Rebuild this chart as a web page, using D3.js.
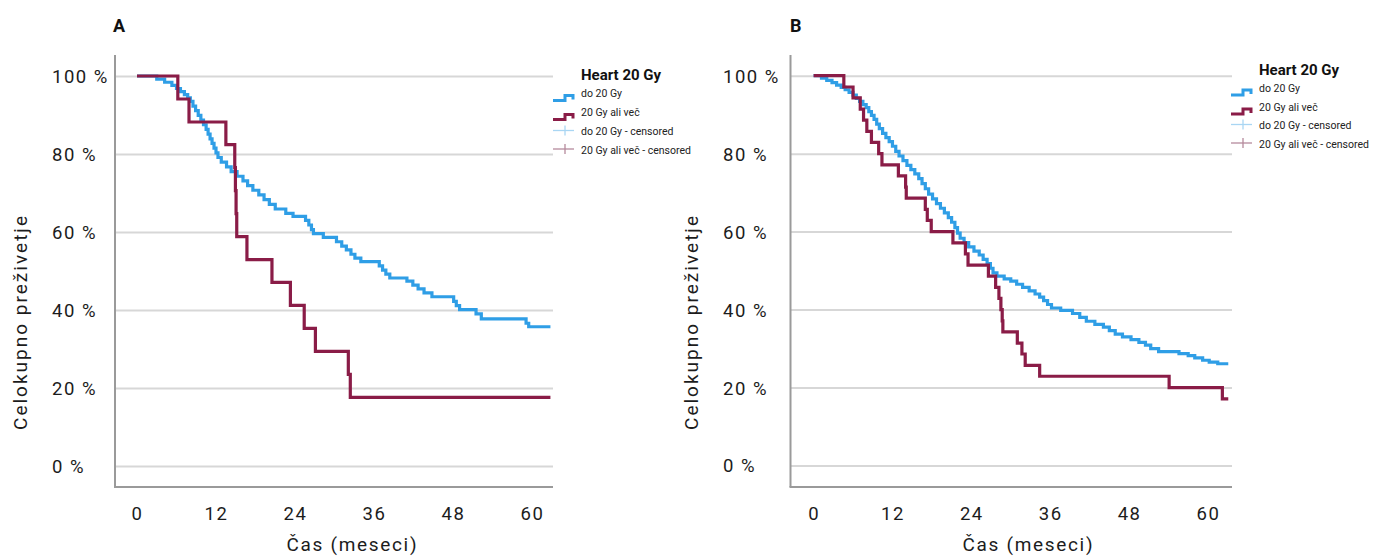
<!DOCTYPE html>
<html>
<head>
<meta charset="utf-8">
<script src="https://cdn.jsdelivr.net/npm/d3@7"></script>
<style>
  body { margin: 0; background: #fff; }
  svg text { font-family: Roboto, "Noto Sans", sans-serif; fill: #1c1c1c; }
</style>
</head>
<body>
<svg id="chart" width="1378" height="557"></svg>
<script>
// Axis ticks and labels
const monthTicks = [0, 12, 24, 36, 48, 60];
const pctTicks = [0, 20, 40, 60, 80, 100];
const xTitle = "Čas (meseci)";
const yTitle = "Celokupno preživetje";
const legendTitle = "Heart 20 Gy";
const legendLabels = ["do 20 Gy", "20 Gy ali več", "do 20 Gy - censored", "20 Gy ali več - censored"];

// Panel A — Kaplan–Meier steps (months, survival %)
const aLowTime = [0, 3.0, 4.2, 5.3, 6.0, 6.6, 7.2, 7.7, 8.1, 8.5, 8.9, 9.3, 9.7, 10.1, 10.5, 10.8, 11.1, 11.4, 11.7, 12.0, 12.3, 12.8, 13.6, 14.3, 15.2, 16.1, 16.8, 17.6, 18.5, 19.3, 20.1, 21.0, 22.6, 23.7, 25.6, 26.1, 26.5, 26.8, 28.3, 30.3, 31.1, 31.8, 32.5, 33.1, 34.0, 36.8, 37.3, 37.8, 38.4, 41.0, 41.9, 42.7, 43.6, 44.8, 48.1, 48.5, 49.0, 51.5, 52.3, 59.1, 59.5, 62.8];
const aLowSurv = [100, 99.2, 98.4, 97.6, 96.8, 96.0, 95.2, 94.4, 93.5, 92.3, 91.1, 89.9, 88.7, 87.5, 86.3, 85.1, 83.9, 82.7, 81.5, 80.3, 79.1, 77.9, 76.7, 75.5, 74.3, 73.1, 71.9, 70.7, 69.5, 68.3, 67.1, 65.9, 64.8, 64.0, 63.0, 61.8, 60.6, 59.6, 58.6, 57.5, 56.4, 55.4, 54.3, 53.3, 52.4, 51.3, 50.2, 49.2, 48.2, 47.4, 46.4, 45.4, 44.4, 43.4, 42.2, 41.1, 40.1, 39.0, 37.7, 36.6, 35.7, 35.7];
const aHighTime = [0, 6.2, 7.9, 13.5, 14.85, 14.95, 15.05, 15.15, 16.7, 20.5, 23.3, 25.4, 27.1, 32.1, 32.4, 62.8];
const aHighSurv = [100, 94.1, 88.2, 82.4, 76.5, 70.6, 64.7, 58.8, 52.9, 47.1, 41.2, 35.3, 29.4, 23.5, 17.6, 17.6];

// Panel B — Kaplan–Meier steps (months, survival %)
const bLowTime = [0, 1.2, 2.0, 2.8, 3.5, 4.2, 4.8, 5.4, 6.0, 6.5, 7.0, 7.5, 8.0, 8.4, 8.8, 9.2, 9.6, 10.0, 10.5, 11.0, 11.5, 12.0, 12.5, 13.0, 13.6, 14.2, 14.8, 15.4, 16.0, 16.5, 17.0, 17.5, 18.1, 18.7, 19.3, 19.9, 20.5, 21.0, 21.5, 21.9, 22.3, 22.9, 23.6, 24.4, 25.2, 25.8, 26.4, 26.9, 27.3, 27.9, 29.0, 30.0, 30.9, 31.8, 32.8, 33.7, 34.4, 35.0, 35.6, 36.2, 37.6, 39.4, 40.5, 41.5, 42.8, 44.1, 45.0, 45.9, 47.0, 48.3, 49.5, 50.5, 51.3, 52.5, 55.6, 57.0, 58.0, 59.2, 60.2, 61.5, 63.1];
const bLowSurv = [100, 99.4, 98.8, 98.2, 97.6, 97.0, 96.4, 95.7, 95.0, 94.2, 93.4, 92.6, 91.8, 90.8, 89.8, 88.8, 87.6, 86.4, 85.2, 84.1, 83.1, 81.9, 80.6, 79.4, 78.2, 77.0, 75.9, 74.8, 73.6, 72.3, 71.0, 69.6, 68.4, 67.2, 66.0, 64.8, 63.6, 62.4, 61.0, 59.6, 58.3, 57.2, 56.1, 55.0, 54.0, 52.9, 51.8, 50.6, 49.4, 48.6, 47.9, 47.3, 46.5, 45.7, 44.8, 44.0, 43.2, 42.3, 41.3, 40.4, 39.8, 39.0, 38.0, 37.0, 36.2, 35.5, 34.6, 33.7, 33.0, 32.3, 31.6, 30.9, 30.0, 29.2, 28.7, 28.2, 27.6, 27.0, 26.5, 26.1, 26.1];
const bHighTime = [0, 4.6, 6.0, 7.1, 7.6, 8.1, 8.8, 9.9, 10.4, 12.9, 14.0, 14.1, 17.0, 17.3, 17.9, 21.2, 23.1, 23.5, 26.6, 27.7, 28.2, 28.5, 28.7, 28.8, 31.0, 31.7, 32.2, 34.4, 54.1, 62.2, 63.1];
const bHighSurv = [100, 97.1, 94.3, 91.4, 88.6, 85.7, 82.9, 80.0, 77.1, 74.3, 71.4, 68.6, 65.7, 62.9, 60.0, 57.1, 54.3, 51.4, 48.6, 45.7, 42.9, 40.0, 37.1, 34.3, 31.4, 28.6, 25.7, 22.9, 20.0, 17.1, 17.1];

const COLOR_LOW = "#2f9ee6";
const COLOR_HIGH = "#8a1c47";
const COLOR_LOW_CENS = "#a9d6f3";
const COLOR_HIGH_CENS = "#b58a9c";

const zip = (t, s) => t.map((v, i) => ({ t: v, s: s[i] }));

const panels = [
  {
    letter: "A", low: zip(aLowTime, aLowSurv), high: zip(aHighTime, aHighSurv),
    axisX: 115, right: 553, x0: 137, x60: 532, y0: 466, y100: 76,
    tickLabelX: 52, yTitleX: 20, xTitleX: 351.5, letterX: 113,
    legendX: 581, iconX: 553, legendY: [75, 93.5, 112.5, 131.5, 150]
  },
  {
    letter: "B", low: zip(bLowTime, bLowSurv), high: zip(bHighTime, bHighSurv),
    axisX: 790.5, right: 1232, x0: 813.6, x60: 1207.9, y0: 465.5, y100: 75.7,
    tickLabelX: 723, yTitleX: 691, xTitleX: 1027.5, letterX: 790,
    legendX: 1259, iconX: 1231, legendY: [69.5, 88, 107, 125.5, 144]
  }
];

const svg = d3.select("#chart");
const AXIS_TOP = 55, AXIS_BOTTOM = 487;

panels.forEach(p => {
  const g = svg.append("g");
  const x = d3.scaleLinear().domain([0, 60]).range([p.x0, p.x60]);
  const y = d3.scaleLinear().domain([0, 100]).range([p.y0, p.y100]);

  // Panel letter
  g.append("text").attr("x", p.letterX).attr("y", 32)
    .style("font-size", "18px").style("font-weight", "700").style("fill", "#111")
    .text(p.letter);

  // Horizontal gridlines + left tick labels
  const yAxis = d3.axisLeft(y).tickValues(pctTicks)
    .tickSize(-(p.right - p.axisX)).tickPadding(0)
    .tickFormat(d => d + " %");
  const gy = g.append("g").attr("transform", `translate(${p.axisX},0)`).call(yAxis);
  gy.select(".domain").remove();
  gy.selectAll(".tick line").attr("stroke", "#d7d7d7").attr("stroke-width", 2);
  gy.selectAll(".tick text")
    .attr("x", p.tickLabelX - p.axisX).attr("dy", "0.35em")
    .attr("text-anchor", "start")
    .style("font-size", "18.5px").style("letter-spacing", "1.5px")
    .style("font-family", "Roboto, sans-serif").attr("fill", "#151515");

  // Bottom tick labels
  const xAxis = d3.axisBottom(x).tickValues(monthTicks).tickSize(0).tickPadding(0);
  const gx = g.append("g").attr("transform", `translate(0,${AXIS_BOTTOM})`).call(xAxis);
  gx.select(".domain").remove();
  gx.selectAll(".tick text")
    .attr("y", 27).attr("dy", "0.35em")
    .style("font-size", "18.5px").style("letter-spacing", "1.5px")
    .style("font-family", "Roboto, sans-serif").attr("fill", "#151515");

  // Axis lines
  g.append("line").attr("x1", p.axisX).attr("x2", p.axisX)
    .attr("y1", AXIS_TOP).attr("y2", AXIS_BOTTOM)
    .attr("stroke", "#9a9a9a").attr("stroke-width", 2);
  g.append("line").attr("x1", p.axisX - 1).attr("x2", p.right)
    .attr("y1", AXIS_BOTTOM).attr("y2", AXIS_BOTTOM)
    .attr("stroke", "#9a9a9a").attr("stroke-width", 2);

  // Axis titles
  g.append("text")
    .attr("transform", `translate(${p.yTitleX},323) rotate(-90)`)
    .attr("text-anchor", "middle").attr("dy", "0.35em")
    .attr("textLength", 214).attr("lengthAdjust", "spacing")
    .style("font-size", "19px")
    .text(yTitle);
  g.append("text")
    .attr("x", p.xTitleX).attr("y", 544).attr("dy", "0.35em")
    .attr("text-anchor", "middle")
    .attr("textLength", 130).attr("lengthAdjust", "spacing")
    .style("font-size", "19px")
    .text(xTitle);

  // Survival step curves
  const line = d3.line().x(d => x(d.t)).y(d => y(d.s)).curve(d3.curveStepAfter);
  g.append("path").datum(p.low).attr("d", line)
    .attr("fill", "none").attr("stroke", COLOR_LOW).attr("stroke-width", 3.2);
  g.append("path").datum(p.high).attr("d", line)
    .attr("fill", "none").attr("stroke", COLOR_HIGH).attr("stroke-width", 3.2);

  // Legend
  const lg = g.append("g");
  lg.append("text").attr("x", p.legendX).attr("y", p.legendY[0]).attr("dy", "0.35em")
    .style("font-size", "15px").style("font-weight", "700").style("fill", "#111")
    .text(legendTitle);
  const ix = p.iconX;
  const stepIcon = (cy, color) => {
    lg.append("path")
      .attr("d", `M${ix},${cy + 3} H${ix + 12} V${cy - 2} H${ix + 20} V${cy + 2}`)
      .attr("fill", "none").attr("stroke", color).attr("stroke-width", 3);
  };
  const censIcon = (cy, color) => {
    lg.append("line").attr("x1", ix).attr("x2", ix + 21).attr("y1", cy).attr("y2", cy)
      .attr("stroke", color).attr("stroke-width", 1.3);
    lg.append("line").attr("x1", ix + 12).attr("x2", ix + 12).attr("y1", cy - 5).attr("y2", cy + 5)
      .attr("stroke", color).attr("stroke-width", 1.3);
  };
  stepIcon(p.legendY[1] + 4, COLOR_LOW);
  stepIcon(p.legendY[2] + 4, COLOR_HIGH);
  censIcon(p.legendY[3] - 1, COLOR_LOW_CENS);
  censIcon(p.legendY[4] - 1, COLOR_HIGH_CENS);
  legendLabels.forEach((lab, i) => {
    lg.append("text").attr("x", p.legendX).attr("y", p.legendY[i + 1]).attr("dy", "0.35em")
      .style("font-size", "10.5px").style("fill", "#222")
      .text(lab);
  });
});
</script>
</body>
</html>
